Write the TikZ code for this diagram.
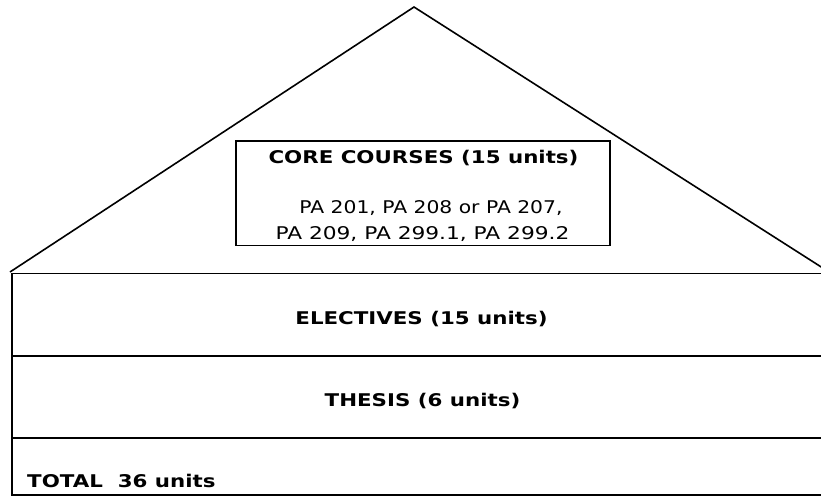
\documentclass[tikz,border=0pt]{standalone}
\usepackage{fontspec}
\newfontfamily\vbold[FakeStretch=1.22]{DejaVu Sans Bold}
\newfontfamily\vreg[FakeStretch=1.16]{DejaVu Sans}
\begin{document}
\begin{tikzpicture}[x=1pt,y=-1pt,
  edge/.style={line width=1.6pt,line join=miter},
  boldtxt/.style={font=\vbold\fontsize{17.5}{20}\selectfont,anchor=base,inner sep=0pt},
  regtxt/.style={font=\vreg\fontsize{17.5}{20}\selectfont,anchor=base,inner sep=0pt}]
\useasboundingbox (0,0) rectangle (821,496);
\fill[white] (0,0) rectangle (821,496);
% roof
\coordinate (roofL) at (10,272);
\coordinate (apex) at (414,7);
\coordinate (roofR) at (822,267.5);
\draw[edge] (roofL) -- (apex) -- (roofR);
% base block
\coordinate (tl) at (12,273.5);
\coordinate (tr) at (823,273.5);
\coordinate (bl) at (12,495);
\coordinate (br) at (823,495);
\coordinate (m1l) at (12,356);
\coordinate (m1r) at (823,356);
\coordinate (m2l) at (12,438);
\coordinate (m2r) at (823,438);
\draw[edge] (tr) -- (tl) -- (bl) -- (br);
\draw[edge] (m1l) -- (m1r);
\draw[edge] (m2l) -- (m2r);
% core box
\node[draw,line width=1.6pt,minimum width=374pt,minimum height=104.5pt,inner sep=0pt] (core) at (423,193.25) {};
\node[boldtxt] (coretitle) at (423.5,163) {CORE COURSES (15 units)};
\node[regtxt] (corel1) at (431,213) {PA 201, PA 208 or PA 207,};
\node[regtxt] (corel2) at (422.5,239) {\scalebox{1.07}[1]{PA 209, PA 299.1, PA 299.2}};
% layers
\node[boldtxt] (elect) at (421.5,324) {ELECTIVES (15 units)};
\node[boldtxt] (thesis) at (422.5,406.7) {THESIS (6 units)};
\node[boldtxt,anchor=base west] (total) at (27,487.7) {TOTAL\ \ 36 units};
\end{tikzpicture}
\end{document}
